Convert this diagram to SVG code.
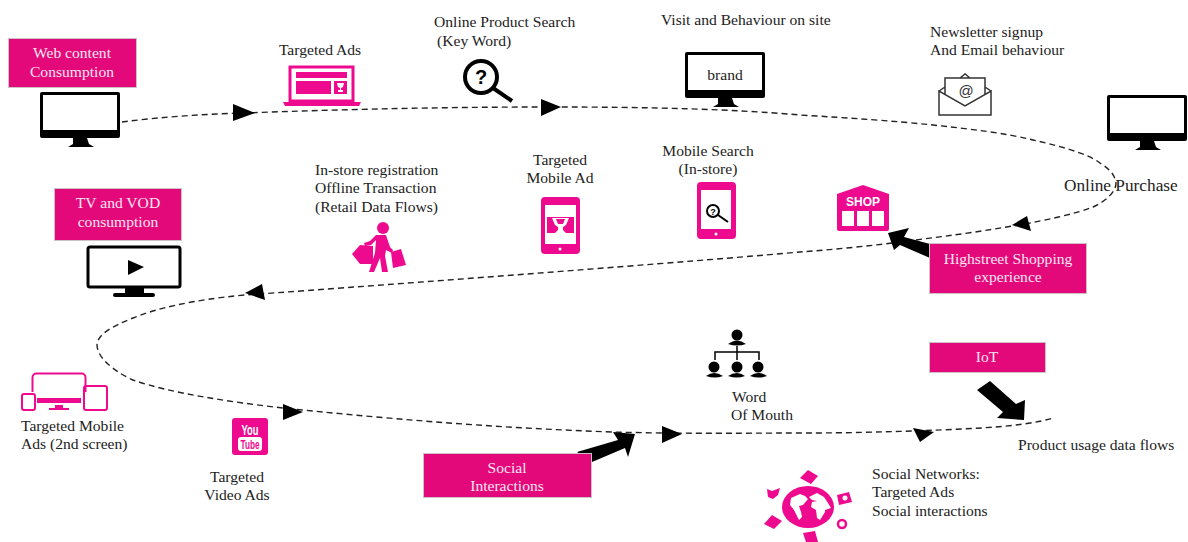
<svg xmlns="http://www.w3.org/2000/svg" width="1188" height="542" viewBox="0 0 1188 542">
<style>
text{font-family:"Liberation Serif","Times New Roman",serif;font-size:15.6px;fill:#222}
.w{fill:#fbe6f1;text-anchor:middle}
.m{text-anchor:middle}
.box{fill:#e4097b;stroke:#c9c3c6;stroke-width:1}
.p{fill:#ee0a8e}
.ps{fill:none;stroke:#ee0a8e}
.k{fill:#000}
.ks{fill:none;stroke:#000}
.dash{fill:none;stroke:#222;stroke-width:1.4;stroke-dasharray:6 4}
</style>
<defs>
<g id="mon">
<rect x="0" y="0" width="80" height="46" rx="2" class="k"/>
<rect x="3" y="3" width="74" height="35" fill="#fff"/>
<path d="M33 46h14l2 6 5 3H28l5-3z" class="k"/>
</g>
</defs>
<g id="connectors">
<path class="dash" d="M122 122C160 117 205 114 245 113C350 109 450 107 550 107C650 107 730 109 800 115C850 118 895 121 933 125C970 129 1005 133 1033 140C1065 147 1090 155 1100 163C1108 168 1115 174 1116 183C1116 192 1106 201 1093 207C1075 214 1050 219 1030 223C985 231 955 235 923 239C880 245 840 249 800 252C700 261 400 284 245 295C190 300 155 309 133 318C112 326 97 335 97 345C97 357 113 371 133 380C170 393 230 402 283 408C400 420 500 428 613 432C680 434 760 433 800 433C850 433 880 432 913 431C960 429 1020 428 1053 418"/>
<polygon class="k" points="233,104 255,113 233,121"/>
<polygon class="k" points="541,99 561,107 541,116"/>
<polygon class="k" points="1012,225 1027,216 1031,231"/>
<polygon class="k" points="245,293 262,284 265,300"/>
<polygon class="k" points="283,404 303,412 283,420"/>
<polygon class="k" points="662,426 682,434 662,443"/>
<polygon class="k" points="913,428 934,432 920,442"/>
<polygon class="k" points="888,233 909,228 904,237 930,244 930,258 900,245 894,250"/>
<polygon class="k" points="577,452 618,440 613,432 635,434 628,457 625,448 592,462"/>
<polygon class="k" points="977,390 990,381 1016,404 1025,400 1024,420 997,418 1003,412"/>
</g>
<g id="web-content"><rect class="box" x="8.500" y="38.500" width="128" height="49"/><text class="w" x="72" y="58">Web content</text><text class="w" x="72" y="77">Consumption</text><use href="#mon" x="40" y="92"/></g>
<g id="targeted-ads"><text class="m" x="320" y="55">Targeted Ads</text>
<rect class="ps" x="290" y="67" width="63" height="34" stroke-width="3"/>
<rect class="p" x="296" y="72" width="51" height="6"/><rect class="p" x="296" y="81" width="35" height="13"/><rect class="p" x="334" y="81" width="13" height="13"/><path fill="#fff" d="M337 83h7l-1 4-2 1v2h2v2h-5v-2h2v-2l-2-1z"/>
<path class="p" d="M283 102h78l-2 4h-74z"/></g>
<g id="search"><text x="434" y="27">Online Product Search</text><text x="437" y="46">(Key Word)</text>
<circle class="ks" cx="481" cy="77" r="16" stroke-width="4"/><text x="481" y="84" style="font:700 20px 'Liberation Sans',sans-serif;text-anchor:middle;fill:#000">?</text>
<path class="ks" d="M493 88l19 13" stroke-width="4"/></g>
<g id="visit"><text x="661" y="25">Visit and Behaviour on site</text><use href="#mon" x="685" y="52"/><text class="m" x="725" y="80">brand</text></g>
<g id="newsletter"><text x="930" y="37">Newsletter signup</text><text x="930" y="55">And Email behaviour</text>
<path fill="none" stroke="#333" stroke-width="1.500" d="M939 91v24h52V91l-26 15zM939 91l6-4M991 91l-6-4M945 94V78h40v16M960 78l5-4 5 4"/>
<text x="966" y="96" style="font:15px 'Liberation Sans',sans-serif;text-anchor:middle;fill:#333">@</text></g>
<g id="online-purchase"><use href="#mon" x="1107" y="95"/><text x="1064" y="191" style="font-size:17.300px">Online Purchase</text></g>
<g id="shop"><path class="p" d="M837 194l26-9 26 9v35a2 2 0 0 1-2 2h-48a2 2 0 0 1-2-2z"/><text x="863" y="206" style="font:900 12px 'Liberation Sans',sans-serif;text-anchor:middle;fill:#fff">SHOP</text><rect fill="#fff" x="842" y="211" width="12" height="15"/><rect fill="#fff" x="857" y="211" width="12" height="15"/><rect fill="#fff" x="872" y="211" width="12" height="15"/></g>
<g id="highstreet"><rect class="box" x="929.500" y="243.500" width="157" height="50"/><text class="w" x="1008" y="264">Highstreet Shopping</text><text class="w" x="1008" y="282">experience</text></g>
<g id="mobile-search"><text class="m" x="708" y="156">Mobile Search</text><text class="m" x="708" y="174">(In-store)</text>
<rect class="p" x="697" y="182" width="39" height="57" rx="4"/><rect fill="#fff" x="701" y="190" width="30" height="39"/><circle class="ks" cx="713" cy="211" r="6" stroke-width="2"/><path class="ks" d="M718 215l10 7" stroke-width="2"/><text x="713" y="215" style="font:700 9px 'Liberation Sans',sans-serif;text-anchor:middle;fill:#000">?</text><circle fill="#fff" cx="716" cy="234" r="1.500"/></g>
<g id="mobile-ad"><text class="m" x="560" y="165">Targeted</text><text class="m" x="560" y="183">Mobile Ad</text>
<rect class="p" x="541" y="197" width="39" height="57" rx="4"/><rect fill="#fff" x="545" y="205" width="31" height="39"/><rect class="p" x="547" y="217" width="27" height="16"/><path fill="#fff" d="M552 218h17l-3 7-3 2v3l3 3h-11l3-3v-3l-3-2z"/><path class="p" d="M556 219h9l-2 5h-5z"/><circle fill="#fff" cx="560" cy="249" r="1.500"/></g>
<g id="in-store"><text x="315" y="175">In-store registration</text><text x="315" y="193">Offline Transaction</text><text x="315" y="212">(Retail Data Flows)</text>
<circle class="p" cx="383" cy="228" r="6"/><path class="p" d="M376 235l10 0 4 12 3 3-1 3-6-3-1 6 3 16h-6l-2-14-6 14h-5l6-19 1-13-5 5-6 1-1-3 6-2z"/>
<polygon class="p" points="360,245 373,246 373,264 360,264 352,254"/><polygon class="p" points="391,252 401,249 406,265 393,268"/></g>
<g id="tv"><rect class="box" x="54.500" y="188.500" width="127" height="52"/><text class="w" x="118" y="208">TV and VOD</text><text class="w" x="118" y="227">consumption</text>
<rect class="ks" x="88" y="247" width="92" height="40" rx="2" stroke-width="3"/><rect class="k" x="125" y="288" width="19" height="5"/><rect class="k" x="113" y="293" width="42" height="4" rx="2"/><polygon class="k" points="128,260 144,267 128,275"/></g>
<g id="second-screen"><rect class="ps" x="32.500" y="373.500" width="53" height="35" rx="4" stroke-width="2"/><rect fill="#fff" x="20" y="392" width="90" height="20"/>
<rect class="p" x="37" y="398" width="44" height="5"/><path class="p" d="M55 405h8v3h6v2H49v-2h6z"/>
<rect class="ps" x="22" y="394" width="13" height="16" rx="2" stroke-width="2"/><rect class="ps" x="84" y="386" width="23" height="24" rx="2" stroke-width="2"/>
<text x="21" y="431">Targeted Mobile</text><text x="21" y="449">Ads (2nd screen)</text></g>
<g id="youtube"><rect class="p" x="232" y="418" width="36" height="37" rx="3"/><text x="250" y="435" style="font:700 14px 'Liberation Sans',sans-serif;text-anchor:middle;fill:#fff" textLength="17" lengthAdjust="spacingAndGlyphs">You</text><rect fill="#fff" x="238" y="437" width="24" height="14" rx="3"/><text x="250" y="449" style="font:700 12px 'Liberation Sans',sans-serif;text-anchor:middle;fill:#ee0a8e" textLength="19" lengthAdjust="spacingAndGlyphs">Tube</text>
<text class="m" x="237" y="482">Targeted</text><text class="m" x="237" y="500">Video Ads</text></g>
<g id="social"><rect class="box" x="423.500" y="453.500" width="168" height="44"/><text class="w" x="507" y="473">Social</text><text class="w" x="507" y="491">Interactions</text></g>
<g id="word-of-mouth">
<path class="ks" stroke-width="1.500" d="M737 346v14M715 360v-8h44v8"/>
<g class="k"><circle cx="737" cy="335" r="5.500"/><path d="M728 344q9-7 18 0q-9 3-18 0z"/><circle cx="714" cy="367" r="5.500"/><path d="M706 376q8-6 17 0q-8 3-17 0z"/><circle cx="737" cy="367" r="5.500"/><path d="M728 376q9-6 17 0q-8 3-17 0z"/><circle cx="758" cy="367" r="5.500"/><path d="M750 376q8-6 17 0q-8 3-17 0z"/></g>
<text x="732" y="402">Word</text><text x="731" y="420">Of Mouth</text></g>
<g id="social-networks"><text x="872" y="479">Social Networks:</text><text x="872" y="497">Targeted Ads</text><text x="872" y="516">Social interactions</text>
<ellipse class="p" cx="808" cy="507" rx="26" ry="21"/>
<path fill="#fff" d="M791 498l9-4 5 2 3 3-5 6-4 1 2 6 1 5-3 3-5-10-4-5zM809 497l8-4 7 4 4 6 3 5-6 2 0 2-5 8-3-2-1-8-5-3 1-5 5-1-5-1z"/>
<polygon class="p" points="800,478 808,470 818,476 811,484"/>
<path class="p" d="M767 489l5 2 8-3-2 7-5 4-5-2z"/>
<polygon class="p" points="837,495 849,492 852,502 839,505"/><circle fill="#fff" cx="845" cy="498" r="2.500"/>
<polygon class="p" points="764,524 772,515 782,521 774,529"/>
<polygon class="p" points="803,533 815,531 818,542 806,542"/>
<circle class="ps" cx="842" cy="524" r="4" stroke-width="2.500"/></g>
<g id="iot"><rect class="box" x="929.500" y="342.500" width="116" height="30"/><text class="w" x="987" y="362">IoT</text><text x="1018" y="450">Product usage data flows</text></g>
</svg>
